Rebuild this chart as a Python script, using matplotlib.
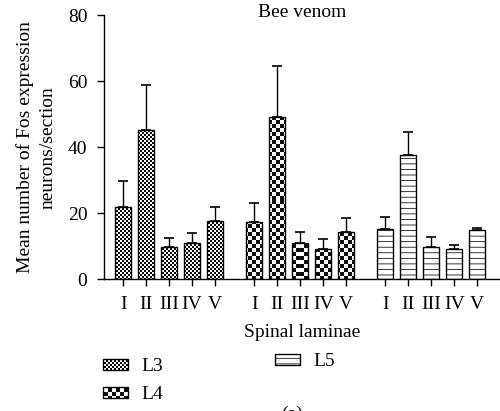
"""
Fos expression per spinal lamina after bee venom (L3 / L4 / L5)
"""

import warnings
import numpy as np
import matplotlib
matplotlib.use('Agg')
import matplotlib.pyplot as plt
import matplotlib.hatch as mhatch
from matplotlib.path import Path

# %%
# Values (mean and upper error)

LAMINAE = ['I', 'II', 'III', 'IV', 'V']
SEGMENTS = ['L3', 'L4', 'L5']

l3_mean = [22.0, 45.1, 9.9, 11.0, 17.8]
l3_err = [7.8, 13.7, 2.6, 3.1, 4.1]
l4_mean = [17.5, 49.3, 11.0, 9.3, 14.3]
l4_err = [5.6, 15.4, 3.5, 2.9, 4.4]
l5_mean = [15.2, 37.6, 9.9, 9.2, 14.9]
l5_err = [3.6, 6.9, 3.1, 1.3, 0.7]

HATCH_LW = 0.55  # pt


# %%
# Checkerboard hatches (fine 'k', coarse 'K'); squares are inset so the
# hatch stroke brings them back to full size

class _Checker(mhatch.HatchPatternBase):
    char = 'k'
    cells = 50

    def __init__(self, hatch, density):
        on = self.char in hatch
        n = self.cells
        self.squares = [(i, j) for i in range(n) for j in range(n)
                        if (i + j) % 2 == 0] if on else []
        self.num_vertices = 5 * len(self.squares)

    def set_vertices_and_codes(self, vertices, codes):
        s = 1.0 / self.cells
        d = HATCH_LW / 72 / 2   # half stroke, in tile units (tile = 1 inch)
        for k, (i, j) in enumerate(self.squares):
            x0, y0 = i * s + d, j * s + d
            x1, y1 = (i + 1) * s - d, (j + 1) * s - d
            vertices[5 * k:5 * k + 5] = [(x0, y0), (x1, y0), (x1, y1),
                                         (x0, y1), (x0, y0)]
            codes[5 * k:5 * k + 5] = [Path.MOVETO, Path.LINETO, Path.LINETO,
                                      Path.LINETO, Path.CLOSEPOLY]


class _CheckerCoarse(_Checker):
    char = 'K'
    cells = 25


mhatch._hatch_types.extend([_Checker, _CheckerCoarse])
warnings.filterwarnings('ignore')

plt.rcParams['font.family'] = ['Liberation Serif', 'DejaVu Serif']
plt.rcParams['font.size'] = 14
plt.rcParams['hatch.linewidth'] = HATCH_LW

fig = plt.figure(figsize=(5.0, 4.11), dpi=100)
ax = fig.add_axes([0.208, 0.32, 0.792, 0.643])

STEP = 5.7
WIDTH = 0.7
x = np.arange(len(LAMINAE))
hatches = ['k', 'K', '---']
means = [l3_mean, l4_mean, l5_mean]
errs = [l3_err, l4_err, l5_err]

ticks, ticklabels, bars = [], [], []
for g, (seg, m, e, h) in enumerate(zip(SEGMENTS, means, errs, hatches)):
    pos = x + g * STEP
    b = ax.bar(pos, m, width=WIDTH, color='white', edgecolor='black',
               linewidth=1.0, hatch=h, label=seg, zorder=2)
    ax.errorbar(pos, m, yerr=[np.zeros(len(e)), e], fmt='none',
                ecolor='black', elinewidth=1.0, capsize=3.5, capthick=1.2,
                zorder=1)
    bars.append(b)
    ticks.extend(pos)
    ticklabels.extend(LAMINAE)

ax.set_xlim(-0.83, 16.39)
ax.set_ylim(0, 80)
ax.set_yticks([0, 20, 40, 60, 80])
ax.set_xticks(ticks)
ax.set_xticklabels(ticklabels)
ax.tick_params(direction='out', length=5, width=1.0)
ax.tick_params(axis='y', pad=7)
ax.tick_params(axis='x', pad=7)
for side in ['top', 'right']:
    ax.spines[side].set_visible(False)
for side in ['left', 'bottom']:
    ax.spines[side].set_linewidth(1.0)

ax.set_xlabel('Spinal laminae', labelpad=8)
ax.set_ylabel('Mean number of Fos expression\nneurons/section',
              linespacing=1.45, labelpad=8)
ax.text(0.5, 1.01, 'Bee venom', transform=ax.transAxes,
        ha='center', va='center')

leg_kw = dict(loc='upper left', frameon=False, handlelength=1.3,
              handleheight=0.52, handletextpad=0.67, labelspacing=0.55,
              borderaxespad=0, borderpad=0)
leg1 = fig.legend(bars[:2], SEGMENTS[:2], bbox_to_anchor=(0.206, 0.128),
                  **leg_kw)
fig.legend(bars[2:], SEGMENTS[2:], bbox_to_anchor=(0.55, 0.14), **leg_kw)

fig.text(0.583, 0.012, '(a)', ha='center', va='top')

fig.savefig('out.png', dpi=100)
